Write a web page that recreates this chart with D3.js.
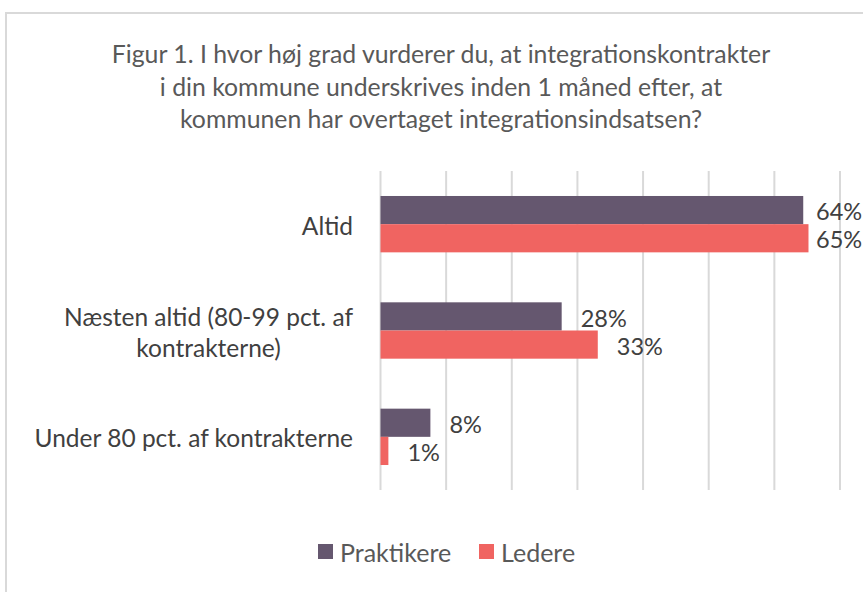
<!DOCTYPE html>
<html>
<head>
<meta charset="utf-8">
<script src="https://cdn.jsdelivr.net/npm/d3@7"></script>
<style>
  body { margin: 0; background: #fff; }
  svg text { font-family: "Source Sans Pro", Lato, sans-serif; }
</style>
</head>
<body>
<div id="chart"></div>
<script>
// Chart data
var titleLines = [
  "Figur 1. I hvor høj grad vurderer du, at integrationskontrakter",
  "i din kommune underskrives inden 1 måned efter, at",
  "kommunen har overtaget integrationsindsatsen?"
];
var categories = ["Altid", "Næsten altid (80-99 pct. af kontrakterne)", "Under 80 pct. af kontrakterne"];
var categoryLines = [["Altid"], ["Næsten altid (80-99 pct. af", "kontrakterne)"], ["Under 80 pct. af kontrakterne"]];
var seriesNames = ["Praktikere", "Ledere"];
var praktikere = [0.644, 0.276, 0.076];
var ledere = [0.652, 0.331, 0.012];
var praktikereLabels = ["64%", "28%", "8%"];
var ledereLabels = ["65%", "33%", "1%"];
var gridTicks = [0, 0.1, 0.2, 0.3, 0.4, 0.5, 0.6, 0.7];
var colors = ["#65576f", "#f06461"];

var width = 863, height = 592;

var svg = d3.select("#chart").append("svg")
  .attr("width", width)
  .attr("height", height);

// outer frame (cropped at right/bottom like the source)
svg.append("rect")
  .attr("x", 6).attr("y", 13)
  .attr("width", 880).attr("height", 600)
  .attr("fill", "#fff")
  .attr("stroke", "#d9d9d9")
  .attr("stroke-width", 2);

// Title
svg.append("g").selectAll("text")
  .data(titleLines)
  .enter().append("text")
  .attr("x", 441)
  .attr("y", function(d, i) { return 63 + i * 32.5; })
  .attr("text-anchor", "middle")
  .attr("font-size", 24.8)
  .attr("fill", "#595959")
  .text(function(d) { return d; });

// Scales
var xScale = d3.scaleLinear().domain([0, 0.7]).range([380.5, 840]);
var yScale = d3.scaleBand().domain(categories).range([171, 490])
  .paddingInner(0.47).paddingOuter(0.235);
var ySub = d3.scaleBand().domain(seriesNames).range([0, yScale.bandwidth()]);

// Gridlines
svg.append("g").selectAll("line")
  .data(gridTicks)
  .enter().append("line")
  .attr("x1", function(d) { return xScale(d); })
  .attr("x2", function(d) { return xScale(d); })
  .attr("y1", 171).attr("y2", 490)
  .attr("stroke", "#d9d9d9")
  .attr("stroke-width", 2);

// Bars
var series = [
  { name: seriesNames[0], values: praktikere, labels: praktikereLabels, color: colors[0] },
  { name: seriesNames[1], values: ledere, labels: ledereLabels, color: colors[1] }
];

series.forEach(function(s) {
  var g = svg.append("g");
  g.selectAll("rect")
    .data(categories)
    .enter().append("rect")
    .attr("x", xScale(0))
    .attr("y", function(d) { return yScale(d) + ySub(s.name); })
    .attr("width", function(d, i) { return xScale(s.values[i]) - xScale(0); })
    .attr("height", ySub.bandwidth())
    .attr("fill", s.color);

  g.selectAll("text")
    .data(categories)
    .enter().append("text")
    .attr("x", function(d, i) { return Math.min(xScale(s.values[i]) + 19, 816); })
    .attr("y", function(d) { return yScale(d) + ySub(s.name) + ySub.bandwidth() / 2 + 2; })
    .attr("dy", "0.35em")
    .attr("font-size", 23.5)
    .attr("fill", "#404040")
    .text(function(d, i) { return s.labels[i]; });
});

// Category labels
var catG = svg.append("g");
categories.forEach(function(c, i) {
  var lines = categoryLines[i];
  var cy = yScale(c) + yScale.bandwidth() / 2 + 2;
  var texts = catG.selectAll(null)
    .data(lines)
    .enter().append("text")
    .attr("y", function(d, j) { return cy + (j - (lines.length - 1) / 2) * 31; })
    .attr("dy", "0.35em")
    .attr("font-size", 24.5)
    .attr("fill", "#404040")
    .text(function(d) { return d; });
  var maxW = d3.max(texts.nodes(), function(n) { return n.getComputedTextLength(); });
  texts.attr("text-anchor", "middle").attr("x", 353 - maxW / 2);
});

// Legend
var legend = svg.append("g");
var legX = [318, 479];
series.forEach(function(s, i) {
  legend.append("rect")
    .attr("x", legX[i]).attr("y", 544)
    .attr("width", 15).attr("height", 15)
    .attr("fill", s.color);
  legend.append("text")
    .attr("x", legX[i] + 22).attr("y", 553)
    .attr("dy", "0.35em")
    .attr("font-size", 25)
    .attr("fill", "#595959")
    .text(s.name);
});
</script>
</body>
</html>
